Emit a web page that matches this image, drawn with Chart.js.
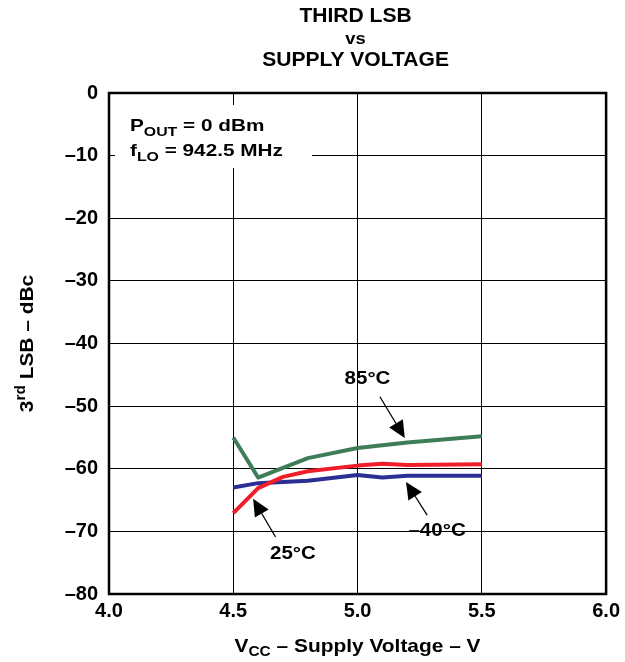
<!DOCTYPE html>
<html>
<head>
<meta charset="utf-8">
<script src="https://cdn.jsdelivr.net/npm/chart.js@4"></script>
<style>
  html, body { margin: 0; padding: 0; background: #fff; }
  #wrap { width: 625px; height: 662px; }
</style>
</head>
<body>
<div id="wrap"><canvas id="myChart" width="625" height="662"></canvas></div>
<script>
// values
const xTicks = [4.0, 4.5, 5.0, 5.5, 6.0]
const yTicks = [0, -10, -20, -30, -40, -50, -60, -70, -80]

const v85 = [4.5, 4.6, 4.8, 5.0, 5.2, 5.5]
const lsb85 = [-55.0, -61.4, -58.3, -56.7, -55.8, -54.8]

const v25 = [4.5, 4.6, 4.7, 4.8, 5.0, 5.1, 5.2, 5.5]
const lsb25 = [-67.1, -63.1, -61.3, -60.4, -59.5, -59.2, -59.4, -59.3]

const vM40 = [4.5, 4.6, 4.8, 5.0, 5.1, 5.2, 5.5]
const lsbM40 = [-63.0, -62.3, -61.9, -61.0, -61.4, -61.1, -61.1]

// labels with arrows: [text, labelX, labelY, tailX, tailY, tipX, tipY] in data units
const notes = [
    ['85°C', 5.04, -45.6, 5.09, -48.5, 5.19, -55.1],
    ['25°C', 4.74, -73.6, 4.67, -70.9, 4.58, -64.8],
    ['–40°C', 5.32, -69.9, 5.28, -67.4, 5.195, -62.1]
]

const FONT = '"Liberation Sans", Arial, sans-serif'

function pts(xs, ys) {
    return xs.map((x, i) => ({ x: x, y: ys[i] }))
}

function dash(v) {
    return v < 0 ? '–' + Math.abs(v) : String(v)
}

// text made of pieces (some sub / superscript), squeezed wider by k like the original lettering
function richWidth(ctx, parts, size, k) {
    let w = 0
    parts.forEach(p => {
        const s = p.sub || p.sup ? Math.round(size * 0.75) : size
        ctx.font = 'bold ' + s + 'px ' + FONT
        w += ctx.measureText(p.t).width
    })
    return w * k
}

function richText(ctx, parts, x, y, size, k, align) {
    const w = richWidth(ctx, parts, size, k)
    let x0 = x
    if (align === 'center') x0 = x - w / 2
    ctx.save()
    ctx.textAlign = 'left'
    ctx.translate(x0, y)
    ctx.scale(k, 1)
    let cx = 0
    parts.forEach(p => {
        const s = p.sub || p.sup ? Math.round(size * 0.75) : size
        ctx.font = 'bold ' + s + 'px ' + FONT
        const dy = p.sub ? size * 0.28 : (p.sup ? -size * 0.38 : 0)
        ctx.fillText(p.t, cx, dy)
        cx += ctx.measureText(p.t).width
    })
    ctx.restore()
}

const extras = {
    id: 'extras',
    beforeDatasetsDraw(chart) {
        const ctx = chart.ctx
        const sx = chart.scales.x, sy = chart.scales.y
        // white box behind the conditions text
        ctx.save()
        ctx.fillStyle = '#fff'
        ctx.fillRect(sx.left + 6, sy.top + 12, 197, 63)
        ctx.fillStyle = '#000'
        ctx.textBaseline = 'alphabetic'
        richText(ctx, [{ t: 'P' }, { t: 'OUT', sub: true }, { t: ' = 0 dBm' }], sx.left + 21, sy.top + 38, 17, 1.22)
        richText(ctx, [{ t: 'f' }, { t: 'LO', sub: true }, { t: ' = 942.5 MHz' }], sx.left + 21, sy.top + 63, 17, 1.22)
        ctx.restore()
    },
    afterDatasetsDraw(chart) {
        const ctx = chart.ctx
        const a = chart.chartArea
        const sx = chart.scales.x, sy = chart.scales.y
        ctx.save()
        // frame
        ctx.strokeStyle = '#000'
        ctx.lineWidth = 2.5
        ctx.strokeRect(a.left, a.top, a.right - a.left, a.bottom - a.top)

        // annotations
        notes.forEach(n => {
            const lx = sx.getPixelForValue(n[1]), ly = sy.getPixelForValue(n[2])
            const tx = sx.getPixelForValue(n[3]), ty = sy.getPixelForValue(n[4])
            const hx = sx.getPixelForValue(n[5]), hy = sy.getPixelForValue(n[6])
            ctx.fillStyle = '#000'
            ctx.textBaseline = 'middle'
            richText(ctx, [{ t: n[0] }], lx, ly, 19, 1.08, 'center')
            ctx.strokeStyle = '#000'
            ctx.lineWidth = 1.3
            const ang = Math.atan2(hy - ty, hx - tx)
            const len = 17, half = 8
            const bx = hx - len * Math.cos(ang), by = hy - len * Math.sin(ang)
            ctx.beginPath()
            ctx.moveTo(tx, ty)
            ctx.lineTo(bx, by)
            ctx.stroke()
            ctx.beginPath()
            ctx.moveTo(hx, hy)
            ctx.lineTo(bx + half * Math.sin(ang), by - half * Math.cos(ang))
            ctx.lineTo(bx - half * Math.sin(ang), by + half * Math.cos(ang))
            ctx.closePath()
            ctx.fill()
        })

        // main title
        ctx.fillStyle = '#000'
        ctx.textBaseline = 'middle'
        const cx = (a.left + a.right) / 2
        richText(ctx, [{ t: 'THIRD LSB' }], cx - 2, 17, 19.5, 1.08, 'center')
        richText(ctx, [{ t: 'vs' }], cx - 2, 39, 17, 1.08, 'center')
        richText(ctx, [{ t: 'SUPPLY VOLTAGE' }], cx - 2, 61, 19.5, 1.08, 'center')

        // x axis title
        richText(ctx, [{ t: 'V' }, { t: 'CC', sub: true }, { t: ' – Supply Voltage – V' }], cx, 647, 19, 1.1, 'center')

        // y axis title, rotated
        ctx.translate(28, (a.top + a.bottom) / 2)
        ctx.rotate(-Math.PI / 2)
        richText(ctx, [{ t: '3' }, { t: 'rd', sup: true }, { t: ' LSB – dBc' }], 0, 0, 19, 1.1, 'center')
        ctx.restore()
    }
}

const ctx = document.getElementById('myChart').getContext('2d')
const chart = new Chart(ctx, {
    type: 'line',
    data: {
        datasets: [
            { label: '25°C', data: pts(v25, lsb25), borderColor: '#f01e28' },
            { label: '-40°C', data: pts(vM40, lsbM40), borderColor: '#2b2e92' },
            { label: '85°C', data: pts(v85, lsb85), borderColor: '#3e7d58' }
        ]
    },
    options: {
        responsive: false,
        animation: false,
        events: [],
        layout: { padding: { left: 0, right: 16, top: 93, bottom: 0 } },
        elements: {
            line: { borderWidth: 4, tension: 0, borderCapStyle: 'butt', borderJoinStyle: 'round' },
            point: { radius: 0 }
        },
        plugins: {
            legend: { display: false },
            title: { display: false },
            tooltip: { enabled: false }
        },
        scales: {
            x: {
                type: 'linear',
                min: 4,
                max: 6,
                afterBuildTicks: s => { s.ticks = xTicks.map(v => ({ value: v })) },
                afterFit: s => { s.height = 68 },
                ticks: {
                    color: '#000',
                    padding: 5,
                    maxRotation: 0,
                    font: { family: FONT, size: 20, weight: 'bold' },
                    callback: v => v.toFixed(1)
                },
                grid: { color: '#000', lineWidth: 1, drawTicks: false },
                border: { display: false }
            },
            y: {
                type: 'linear',
                min: -80,
                max: 0,
                afterBuildTicks: s => { s.ticks = yTicks.map(v => ({ value: v })) },
                afterFit: s => { s.width = 109 },
                ticks: {
                    color: '#000',
                    padding: 11,
                    font: { family: FONT, size: 20, weight: 'bold' },
                    callback: v => dash(v)
                },
                grid: { color: '#000', lineWidth: 1, drawTicks: false },
                border: { display: false }
            }
        }
    },
    plugins: [extras]
})
</script>
</body>
</html>
